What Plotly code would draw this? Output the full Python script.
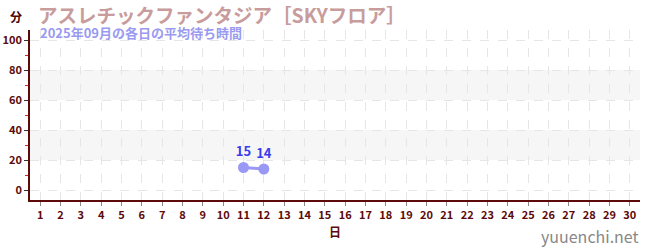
import plotly.graph_objects as go

# Average waiting time per day (minutes), September 2025
days = list(range(1, 31))
wait_days = [11, 12]
wait_minutes = [15, 14]

title_text = "アスレチックファンタジア［SKYフロア］"
subtitle_text = "2025年09月の各日の平均待ち時間"
y_unit = "分"
x_title = "日"
site = "yuuenchi.net"

y_ticks = [0, 20, 40, 60, 80, 100]
bands = [(20, 40), (60, 80)]

font_family = "Noto Sans CJK JP, Noto Sans, sans-serif"
axis_color = "#5c0a0a"

W, H = 650, 250
L, R, T, B = 30, 10, 30, 50
PW = W - L - R


def px_x(px):
    """Convert a pixel x position on the page to paper coordinates."""
    return (px - L) / PW


fig = go.Figure()
fig.add_trace(go.Scatter(
    x=wait_days,
    y=wait_minutes,
    mode="lines+markers+text",
    line=dict(color="#9999f5", width=3),
    marker=dict(color="#9999f5", size=11),
    text=[str(v) for v in wait_minutes],
    textposition="top center",
    textfont=dict(family=font_family, size=13, color="#3a3af0", weight="bold"),
    cliponaxis=False,
    showlegend=False,
))

for lo, hi in bands:
    fig.add_shape(type="rect", xref="paper", yref="y", x0=0, x1=1, y0=lo, y1=hi,
                  fillcolor="#f6f6f6", line=dict(width=0), layer="below")

fig.update_layout(
    width=W, height=H,
    margin=dict(l=L, r=R, t=T, b=B, autoexpand=False),
    paper_bgcolor="white", plot_bgcolor="white",
    font=dict(family=font_family, color=axis_color),
    xaxis=dict(
        range=[0.5, 30.5], tickmode="array", tickvals=days,
        ticktext=[str(d) for d in days],
        tickfont=dict(size=11, color=axis_color, weight="bold"),
        showline=True, linecolor=axis_color, linewidth=1.5,
        ticks="outside", ticklen=4, tickcolor="#888888",
        showgrid=True, gridcolor="#e6e6e6", griddash="dash", gridwidth=1,
        zeroline=False, automargin=False,
        title=dict(text=x_title, font=dict(size=12, color=axis_color, weight="bold"), standoff=8),
    ),
    yaxis=dict(
        range=[-6.67, 106.67], tickmode="array", tickvals=y_ticks,
        tickfont=dict(size=11, color=axis_color, weight="bold"),
        showline=True, linecolor=axis_color, linewidth=1.5,
        ticks="outside", ticklen=4, tickcolor="#333333",
        minor=dict(tickvals=[10, 30, 50, 70, 90], ticks="outside", ticklen=3,
                   tickcolor="#dd2222", showgrid=False),
        showgrid=True, gridcolor="#e6e6e6", griddash="dash", gridwidth=1,
        zeroline=False, automargin=False,
    ),
    annotations=[
        dict(text=title_text, xref="paper", yref="paper", x=px_x(37), y=1, xanchor="left",
             yanchor="middle", yshift=T - 14, showarrow=False, borderpad=0,
             font=dict(size=19.5, color="#c89c9c", weight="bold", family=font_family)),
        dict(text=y_unit, xref="paper", yref="paper", x=px_x(23), y=1, xanchor="right",
             yanchor="middle", yshift=T - 16, showarrow=False, borderpad=0,
             font=dict(size=12, color="#4a0505", weight="bold", family=font_family)),
        dict(text=subtitle_text, xref="paper", yref="paper", x=px_x(39), y=1, xanchor="left",
             yanchor="middle", yshift=T - 32, showarrow=False, borderpad=0,
             font=dict(size=13, color="#9a9af0", weight="bold", family=font_family)),
        dict(text=site, xref="paper", yref="paper", x=px_x(640), y=0, xanchor="right",
             yanchor="bottom", yshift=-49, showarrow=False, borderpad=0,
             font=dict(size=16, color="#888888", family=font_family)),
    ],
)

fig.write_html("out.html")
